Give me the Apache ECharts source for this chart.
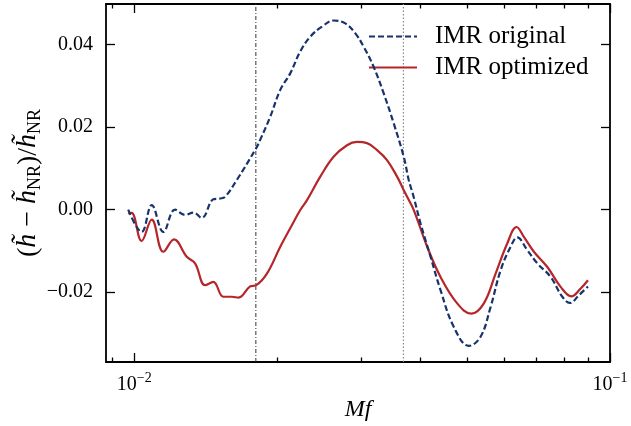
<!DOCTYPE html>
<html>
<head>
<meta charset="utf-8">
<script src="https://cdn.jsdelivr.net/npm/echarts@6/dist/echarts.min.js"></script>
<style>
  html, body { margin: 0; padding: 0; background: #fff; }
  #chart { width: 631px; height: 426px; }
</style>
</head>
<body>
<div id="chart"></div>
<script>
(function () {
  'use strict';

  // IMR original (blue dashed)
  var origF = [0.00971, 0.01036, 0.01088, 0.01151, 0.01218, 0.01279, 0.01331, 0.01386, 0.01466, 0.01515,
    0.01552, 0.01643, 0.01804, 0.01839, 0.01931, 0.02027, 0.02127, 0.02233, 0.02344, 0.02480,
    0.02624, 0.02777, 0.02915, 0.03034, 0.03185, 0.03343, 0.03510, 0.03685, 0.03775, 0.03868,
    0.03996, 0.04195, 0.04403, 0.04695, 0.05050, 0.05344, 0.05610, 0.05889, 0.06180, 0.06383,
    0.06700, 0.07033, 0.07503, 0.07940, 0.08238, 0.08606, 0.08989];
  var origVal = [0.0000, -0.0054, 0.0011, -0.0054, 0.0000, -0.0013, -0.0007, -0.0020, 0.0025, 0.0027,
    0.0031, 0.0072, 0.0149, 0.0169, 0.0225, 0.0290, 0.0330, 0.0383, 0.0419, 0.0443,
    0.0458, 0.0451, 0.0427, 0.0395, 0.0346, 0.0282, 0.0209, 0.0128, 0.0072, 0.0030,
    -0.0033, -0.0114, -0.0195, -0.0284, -0.0330, -0.0308, -0.0236, -0.0147, -0.0090, -0.0067,
    -0.0098, -0.0130, -0.0163, -0.0211, -0.0226, -0.0207, -0.0186];

  // IMR optimized (red solid)
  var optF = [0.00971, 0.00987, 0.01036, 0.01088, 0.01151, 0.01212, 0.01289, 0.01342, 0.01409, 0.01466,
    0.01539, 0.01604, 0.01656, 0.01752, 0.01804, 0.01900, 0.02027, 0.02127, 0.02233, 0.02307,
    0.02460, 0.02624, 0.02800, 0.02939, 0.03085, 0.03238, 0.03398, 0.03568, 0.03685, 0.03746,
    0.03868, 0.04128, 0.04403, 0.04773, 0.05109, 0.05430, 0.05748, 0.06081, 0.06362, 0.06591,
    0.06918, 0.07384, 0.07875, 0.08294, 0.08677, 0.08989];
  var optVal = [-0.0009, -0.0008, -0.0076, -0.0024, -0.0102, -0.0072, -0.0114, -0.0130, -0.0183, -0.0175,
    -0.0211, -0.0211, -0.0213, -0.0186, -0.0183, -0.0155, -0.0090, -0.0045, -0.0001, 0.0023,
    0.0080, 0.0128, 0.0156, 0.0164, 0.0161, 0.0144, 0.0120, 0.0080, 0.0047, 0.0031,
    -0.0001, -0.0090, -0.0163, -0.0227, -0.0252, -0.0227, -0.0155, -0.0082, -0.0042, -0.0066,
    -0.0102, -0.0139, -0.0187, -0.0210, -0.0191, -0.0171];

  var seriesNames = ['IMR original', 'IMR optimized'];
  var vLines = [0.01801, 0.03679];
  var xMajor = [0.01, 0.1];
  var xMinor = [0.009, 0.02, 0.03, 0.04, 0.05, 0.06, 0.07, 0.08, 0.09];
  var yTicks = [-0.02, 0, 0.02, 0.04];

  var xMin = 0.00872, xMax = 0.1, yMin = -0.0369, yMax = 0.0498;
  var font = 'Liberation Serif';
  var frame = { color: '#000', width: 1.8 };
  var tickLine = { color: '#000', width: 1.3 };

  function zip(a, b) {
    return a.map(function (v, i) { return [v, b[i]]; });
  }

  // same box for all grids; the extra grids only carry tick marks
  function box() {
    return { left: 106, right: 21, top: 4, bottom: 64, containLabel: false, outerBoundsMode: 'none' };
  }

  // tick-only x axis in log10 space, laid over the log axis
  function tickAxis(grid, pos, ticks, len, line) {
    return {
      gridIndex: grid, type: 'value', min: Math.log10(xMin), max: Math.log10(xMax), position: pos,
      axisLine: { show: line, onZero: false, lineStyle: frame },
      axisTick: { show: true, inside: true, length: len,
        customValues: ticks.map(function (v) { return Math.log10(v); }),
        lineStyle: tickLine },
      axisLabel: { show: false },
      splitLine: { show: false }
    };
  }

  function hiddenY(grid) {
    return { gridIndex: grid, type: 'value', min: yMin, max: yMax, show: false };
  }

  var xMain = {
    gridIndex: 0, type: 'log', logBase: 10, min: xMin, max: xMax, position: 'bottom',
    axisLine: { show: true, onZero: false, lineStyle: frame },
    axisTick: { show: false },
    axisLabel: {
      show: true, customValues: xMajor, margin: 9, fontFamily: font,
      formatter: function (v) {
        return '{b|10}{s|\u2212' + Math.round(-Math.log10(v)) + '}';
      },
      rich: {
        b: { fontSize: 20, lineHeight: 24, verticalAlign: 'bottom', fontFamily: font, color: '#000' },
        s: { fontSize: 14, lineHeight: 14, verticalAlign: 'top', fontFamily: font, color: '#000' }
      }
    },
    splitLine: { show: false },
    name: 'Mf', nameLocation: 'middle', nameGap: 36, nameMoveOverlap: false,
    nameTextStyle: { fontFamily: font, fontStyle: 'italic', fontSize: 24, color: '#000' }
  };

  function yAxisCfg(pos, labels) {
    return {
      gridIndex: 0, type: 'value', min: yMin, max: yMax, position: pos,
      axisLine: { show: true, onZero: false, lineStyle: frame },
      axisTick: { show: true, inside: true, length: 9, customValues: yTicks, lineStyle: tickLine },
      axisLabel: labels ? {
        show: true, customValues: yTicks, margin: 13, fontFamily: font, fontSize: 20, color: '#000',
        formatter: function (v) {
          return (v < 0 ? '\u2212' : '') + Math.abs(v).toFixed(2);
        }
      } : { show: false },
      splitLine: { show: false }
    };
  }

  var yLeft = yAxisCfg('left', true);
  yLeft.name = '({i|h\u0303} \u2212 {i|h\u0303}{s|NR})/{i|h\u0303}{s|NR}';
  yLeft.nameLocation = 'middle';
  yLeft.nameGap = 62;
  yLeft.nameMoveOverlap = false;
  yLeft.nameTextStyle = {
    fontFamily: font, fontSize: 28, color: '#000',
    rich: {
      i: { fontFamily: font, fontStyle: 'italic', fontSize: 28, lineHeight: 30, verticalAlign: 'top', color: '#000' },
      s: { fontFamily: font, fontSize: 18, lineHeight: 16, verticalAlign: 'bottom', color: '#000' }
    }
  };

  var myChart = echarts.init(document.getElementById('chart'), null, { renderer: 'canvas' });

  var option = {
    animation: false,
    backgroundColor: '#fff',
    grid: [box(), box(), box()],
    legend: {
      orient: 'vertical', left: 363, top: 19,
      itemWidth: 48, itemHeight: 22, itemGap: 6,
      itemStyle: { opacity: 0 },
      textStyle: { fontFamily: font, fontSize: 25, color: '#000', padding: [0, 0, 0, 13] },
      data: seriesNames
    },
    xAxis: [
      xMain,
      tickAxis(0, 'top', xMajor, 9, true),
      tickAxis(1, 'bottom', xMajor, 9, false),
      tickAxis(1, 'top', xMinor, 4.5, false),
      tickAxis(2, 'bottom', xMinor, 4.5, false)
    ],
    yAxis: [yLeft, yAxisCfg('right', false), hiddenY(1), hiddenY(2)],
    series: [
      {
        name: seriesNames[0], type: 'line', xAxisIndex: 0, yAxisIndex: 0,
        data: zip(origF, origVal), smooth: 0.4, symbol: 'none',
        lineStyle: { color: '#16336b', width: 2.2, type: [6, 3] },
        itemStyle: { color: '#16336b' },
        z: 4
      },
      {
        name: seriesNames[1], type: 'line', xAxisIndex: 0, yAxisIndex: 0,
        data: zip(optF, optVal), smooth: 0.4, symbol: 'none',
        lineStyle: { color: '#b5262a', width: 2.2 },
        itemStyle: { color: '#b5262a' },
        z: 3
      },
      {
        name: 'fLow', type: 'line', xAxisIndex: 0, yAxisIndex: 0, silent: true,
        data: [[vLines[0], yMin], [vLines[0], yMax]], symbol: 'none',
        lineStyle: { color: '#333', width: 1, type: [4, 2, 1, 2] }, z: 2
      },
      {
        name: 'fHigh', type: 'line', xAxisIndex: 0, yAxisIndex: 0, silent: true,
        data: [[vLines[1], yMin], [vLines[1], yMax]], symbol: 'none',
        lineStyle: { color: '#888', width: 1.2, type: [1.5, 2] }, z: 2
      }
    ]
  };

  myChart.setOption(option);
}());
</script>
</body>
</html>
